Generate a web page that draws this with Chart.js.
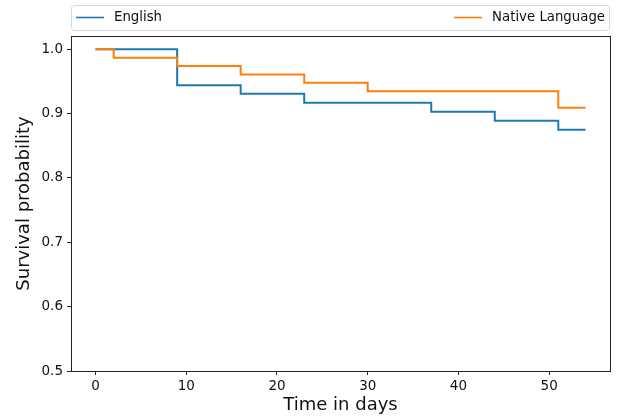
<!DOCTYPE html>
<html>
<head>
<meta charset="utf-8">
<script src="https://cdn.jsdelivr.net/npm/chart.js@4"></script>
<style>
    body { margin: 0; background: #fff; }
    #wrap { width: 617px; height: 417px; position: relative; }
</style>
</head>
<body>
<div id="wrap"><canvas id="myChart"></canvas></div>
<script>
// Kaplan-Meier steps
var englishDays = [0, 9, 16, 23, 37, 44, 51, 54];
var englishSurvival = [1.0, 0.944, 0.931, 0.917, 0.903, 0.889, 0.875, 0.875];
var nativeDays = [0, 2, 9, 16, 23, 30, 51, 54];
var nativeSurvival = [1.0, 0.987, 0.974, 0.961, 0.948, 0.935, 0.909, 0.909];

var seriesNames = ["English", "Native Language"];
var xTicks = [0, 10, 20, 30, 40, 50];
var yTicks = [0.5, 0.6, 0.7, 0.8, 0.9, 1.0];

var FONT = "'DejaVu Sans', sans-serif";
var colors = ['#1f77b4', '#ff7f0e'];

function toPoints(xs, ys) {
    var pts = [];
    xs.forEach(function (x, i) {
        pts.push({ x: x, y: ys[i] });
    });
    return pts;
}

// frame round the axes + legend box on top (matplotlib style, mode expand)
const framePlugin = {
    id: 'frame',
    afterDraw: function (chart) {
        const ctx = chart.ctx;
        const a = chart.chartArea;
        ctx.save();
        ctx.strokeStyle = '#222';
        ctx.lineWidth = 1;
        ctx.strokeRect(Math.round(a.left) + 0.5, Math.round(a.top) + 0.5,
            Math.round(a.right - a.left), Math.round(a.bottom - a.top));

        // legend
        const bx = a.left, by = 5, bw = a.right - a.left, bh = 25;
        ctx.beginPath();
        ctx.roundRect(bx + 0.5, by + 0.5, bw - 1, bh, 3);
        ctx.fillStyle = 'rgba(255,255,255,0.8)';
        ctx.fill();
        ctx.strokeStyle = '#d6d6d6';
        ctx.stroke();

        ctx.font = '13.3px ' + FONT;
        ctx.textBaseline = 'middle';
        ctx.fillStyle = '#111';
        const cy = 17.5;
        // English at left
        ctx.strokeStyle = colors[0];
        ctx.lineWidth = 1.6;
        ctx.beginPath();
        ctx.moveTo(bx + 5, cy); ctx.lineTo(bx + 33, cy);
        ctx.stroke();
        ctx.textAlign = 'left';
        ctx.fillText(seriesNames[0], bx + 43, cy);
        // Native Language at right
        const w = ctx.measureText(seriesNames[1]).width;
        const tx = a.right - 5 - w;
        ctx.strokeStyle = colors[1];
        ctx.beginPath();
        ctx.moveTo(tx - 38, cy); ctx.lineTo(tx - 10, cy);
        ctx.stroke();
        ctx.fillText(seriesNames[1], tx, cy);
        ctx.restore();
    }
};

const data = {
    datasets: [{
        label: seriesNames[0],
        data: toPoints(englishDays, englishSurvival),
        borderColor: colors[0],
        borderWidth: 2,
        pointRadius: 0,
        stepped: true,
        fill: false,
        order: 1,
    }, {
        label: seriesNames[1],
        data: toPoints(nativeDays, nativeSurvival),
        borderColor: colors[1],
        borderWidth: 2,
        pointRadius: 0,
        stepped: true,
        fill: false,
        order: 0,
    }],
};

const config = {
    type: 'line',
    data: data,
    plugins: [framePlugin],
    options: {
        responsive: true,
        maintainAspectRatio: false,
        animation: false,
        layout: { padding: { left: 0, top: 36, right: 7, bottom: 0 } },
        plugins: {
            legend: { display: false },
            tooltip: { enabled: false },
        },
        scales: {
            x: {
                type: 'linear',
                min: -2.7,
                max: 56.7,
                afterBuildTicks: function (scale) {
                    scale.ticks = xTicks.map(function (v) { return { value: v }; });
                },
                afterFit: function (scale) { scale.height = 46; },
                grid: { drawOnChartArea: false, drawTicks: true, tickLength: 4, color: '#222' },
                border: { display: true, color: '#222' },
                ticks: { color: '#111', font: { family: FONT, size: 13.5 }, padding: 3, maxRotation: 0 },
                title: { display: true, text: 'Time in days', color: '#111', font: { family: FONT, size: 18 }, padding: { top: 0, bottom: 1 } },
            },
            y: {
                type: 'linear',
                min: 0.5,
                max: 1.0207,
                afterBuildTicks: function (scale) {
                    scale.ticks = yTicks.map(function (v) { return { value: v }; });
                },
                afterFit: function (scale) { scale.width = 71; },
                grid: { drawOnChartArea: false, drawTicks: true, tickLength: 4, color: '#222' },
                border: { display: true, color: '#222' },
                ticks: {
                    color: '#111', font: { family: FONT, size: 13.5 }, padding: 4,
                    callback: function (v) { return v.toFixed(1); },
                },
                title: { display: true, text: 'Survival probability', color: '#111', font: { family: FONT, size: 18 }, padding: { top: 14, bottom: 0 } },
            },
        },
    },
};

const myChart = new Chart(document.getElementById('myChart'), config);
</script>
</body>
</html>
